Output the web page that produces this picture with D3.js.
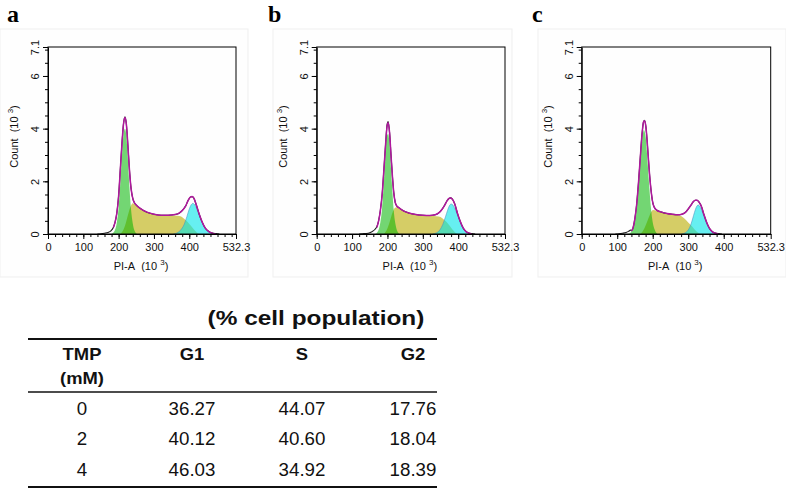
<!DOCTYPE html>
<html><head><meta charset="utf-8">
<script src="https://cdn.jsdelivr.net/npm/d3@7"></script>
<style>body{margin:0;background:#fff} svg{display:block}</style>
</head><body><svg id="chart" width="786" height="493"></svg>
<script>
// ---------- DATA ----------
const panelLabels = ["a", "b", "c"];
const xTicks = [0, 100, 200, 300, 400, 532.3];
const yTicks = [0, 2, 4, 6, 7.1];
const xMax = 532.3, yMax = 7.1;

// panel a (TMP 0 mM) : [PI-A (10^3), Count (10^3)]
const g1_a = [[180,0],[188,0.1],[195,0.45],[200,1.0],[205,2.0],[210,3.1],[214,3.8],[218,4.0],[222,3.7],[226,2.9],[230,1.9],[235,0.95],[240,0.4],[245,0.12],[252,0]];
const s_a  = [[205,0],[212,0.12],[220,0.4],[228,0.8],[235,1.08],[240,1.17],[248,1.1],[260,0.98],[280,0.82],[300,0.74],[320,0.70],[340,0.69],[360,0.70],[372,0.68],[382,0.62],[392,0.5],[400,0.38],[408,0.26],[415,0.14],[422,0.05],[428,0]];
const g2_a = [[355,0],[365,0.04],[375,0.14],[385,0.35],[393,0.65],[400,0.95],[405,1.1],[410,1.16],[415,1.12],[420,1.0],[428,0.72],[436,0.45],[445,0.22],[455,0.09],[465,0.03],[475,0]];
const fit_a = [[185,0.25],[190,0.45],[195,0.8],[200,1.45],[205,2.5],[210,3.55],[214,4.2],[218,4.42],[222,4.15],[226,3.4],[230,2.55],[235,1.75],[240,1.35],[245,1.18],[250,1.1],[260,0.98],[280,0.83],[300,0.75],[320,0.71],[340,0.71],[360,0.74],[370,0.78],[380,0.89],[390,1.07],[397,1.28],[403,1.4],[408,1.42],[413,1.36],[420,1.1],[428,0.76],[436,0.47],[445,0.23],[455,0.09],[465,0.03],[475,0]];
const data_a = [[140,0],[150,0.01],[160,0.03],[170,0.06],[178,0.12],[185,0.25],[190,0.45],[195,0.8],[200,1.45],[205,2.5],[210,3.55],[214,4.2],[218,4.45],[222,4.15],[226,3.4],[230,2.55],[235,1.75],[240,1.35],[245,1.18],[250,1.1],[260,0.98],[280,0.83],[300,0.75],[320,0.71],[340,0.71],[360,0.74],[370,0.78],[380,0.89],[390,1.07],[397,1.28],[403,1.4],[408,1.42],[413,1.36],[420,1.1],[428,0.76],[436,0.47],[445,0.23],[455,0.1],[465,0.04],[475,0.015],[485,0]];

// panel b (TMP 2 mM)
const g1_b = [[165,0],[172,0.08],[180,0.45],[185,1.0],[190,2.0],[195,3.1],[199,3.75],[202,3.8],[206,3.4],[210,2.5],[214,1.6],[218,0.85],[223,0.35],[228,0.1],[234,0]];
const s_b  = [[190,0],[198,0.15],[206,0.45],[214,0.8],[220,0.98],[226,1.02],[235,0.95],[250,0.85],[270,0.76],[290,0.71],[310,0.69],[330,0.68],[345,0.66],[355,0.6],[365,0.48],[373,0.36],[380,0.24],[387,0.12],[393,0.04],[398,0]];
const g2_b = [[328,0],[338,0.04],[348,0.15],[356,0.35],[364,0.65],[370,0.9],[375,1.07],[380,1.14],[385,1.1],[390,0.98],[398,0.72],[406,0.45],[414,0.22],[422,0.09],[430,0.03],[438,0]];
const fit_b = [[170,0.25],[175,0.5],[180,0.9],[185,1.5],[190,2.45],[195,3.45],[199,4.1],[202,4.22],[206,3.85],[210,3.0],[214,2.2],[218,1.55],[222,1.2],[226,1.07],[232,1.0],[245,0.88],[260,0.8],[280,0.74],[300,0.71],[320,0.70],[335,0.73],[345,0.8],[355,0.95],[362,1.1],[368,1.25],[374,1.35],[378,1.37],[383,1.33],[390,1.15],[398,0.78],[406,0.47],[414,0.23],[422,0.09],[430,0.03],[438,0]];
const data_b = [[120,0],[130,0.01],[140,0.02],[150,0.05],[158,0.1],[165,0.18],[170,0.28],[175,0.5],[180,0.9],[185,1.5],[190,2.45],[195,3.45],[199,4.15],[202,4.27],[206,3.85],[210,3.0],[214,2.2],[218,1.55],[222,1.2],[226,1.07],[232,1.0],[245,0.88],[260,0.8],[280,0.74],[300,0.71],[320,0.70],[335,0.73],[345,0.8],[355,0.95],[362,1.1],[368,1.25],[374,1.35],[378,1.37],[383,1.33],[390,1.15],[398,0.78],[406,0.47],[414,0.23],[422,0.1],[430,0.04],[438,0.015],[448,0]];

// panel c (TMP 4 mM)
const g1_c = [[130,0],[140,0.08],[148,0.35],[155,0.95],[160,1.7],[165,2.6],[170,3.5],[175,3.95],[180,3.7],[185,2.85],[190,1.85],[195,1.0],[200,0.45],[206,0.15],[213,0]];
const s_c  = [[165,0],[172,0.1],[180,0.32],[188,0.6],[195,0.82],[201,0.91],[210,0.88],[225,0.82],[240,0.78],[255,0.75],[270,0.72],[280,0.68],[290,0.58],[300,0.44],[310,0.3],[318,0.17],[326,0.07],[334,0]];
const g2_c = [[282,0],[292,0.05],[300,0.15],[308,0.38],[315,0.7],[320,0.92],[324,1.05],[328,1.1],[332,1.06],[337,0.93],[344,0.68],[352,0.4],[360,0.2],[368,0.08],[376,0.03],[385,0]];
const fit_c = [[140,0.12],[145,0.25],[150,0.6],[155,1.15],[160,1.95],[165,2.9],[170,3.8],[174,4.25],[177,4.3],[181,4.05],[185,3.4],[190,2.45],[195,1.7],[200,1.2],[205,1.0],[212,0.9],[225,0.83],[240,0.78],[255,0.75],[270,0.73],[282,0.75],[292,0.82],[300,0.95],[308,1.1],[314,1.22],[320,1.28],[325,1.28],[330,1.22],[337,1.05],[344,0.75],[352,0.44],[360,0.21],[368,0.08],[376,0.03],[385,0]];
const data_c = [[95,0],[105,0.01],[115,0.03],[125,0.06],[132,0.1],[138,0.15],[140,0.12],[145,0.25],[150,0.6],[155,1.15],[160,1.95],[165,2.9],[170,3.8],[174,4.25],[177,4.32],[181,4.05],[185,3.4],[190,2.45],[195,1.7],[200,1.2],[205,1.0],[212,0.9],[225,0.83],[240,0.78],[255,0.75],[270,0.73],[282,0.75],[292,0.82],[300,0.95],[308,1.1],[314,1.22],[320,1.28],[325,1.28],[330,1.22],[337,1.05],[344,0.75],[352,0.44],[360,0.21],[368,0.09],[376,0.04],[385,0.015],[395,0]];

// table
const tableTitle = "(% cell population)";
const headerTMP = ["TMP", "(mM)"];
const phaseHeaders = ["G1", "S", "G2"];
const tmpValues = ["0", "2", "4"];
const g1Pct = ["36.27", "40.12", "46.03"];
const sPct  = ["44.07", "40.60", "34.92"];
const g2Pct = ["17.76", "18.04", "18.39"];

// ---------- DRAW ----------
const svg = d3.select("#chart");
const sans = "'Liberation Sans', Arial, Helvetica, sans-serif";

const panels = [
  {label: panelLabels[0], g1: g1_a, s: s_a, g2: g2_a, fit: fit_a, data: data_a},
  {label: panelLabels[1], g1: g1_b, s: s_b, g2: g2_b, fit: fit_b, data: data_b},
  {label: panelLabels[2], g1: g1_c, s: s_c, g2: g2_c, fit: fit_c, data: data_c}
];
const layout = [
  {left: 48, right: 236, frameL: 0, frameR: 248, letterX: 7},
  {left: 316.7, right: 505, frameL: 273, frameR: 512, letterX: 268},
  {left: 581.7, right: 770.7, frameL: 538, frameR: 786, letterX: 532}
];
const plotTop = 47, plotBottom = 234;

const y = d3.scaleLinear().domain([0, yMax]).range([plotBottom, plotTop]);

panels.forEach((p, i) => {
  const L = layout[i];
  const x = d3.scaleLinear().domain([0, xMax]).range([L.left, L.right]);
  const g = svg.append("g");

  g.append("rect").attr("x", L.frameL).attr("y", 29).attr("width", L.frameR - L.frameL).attr("height", 248)
    .attr("fill", "#fefefe").attr("stroke", "#efefef");

  g.append("text").attr("x", L.letterX).attr("y", 21.5).text(p.label)
    .attr("font-family", "'Liberation Serif', 'Times New Roman', serif").attr("font-weight", "bold").attr("font-size", 24);

  const area = d3.area().x(d => x(d[0])).y0(y(0)).y1(d => y(d[1])).curve(d3.curveMonotoneX);
  const line = d3.line().x(d => x(d[0])).y(d => y(d[1])).curve(d3.curveMonotoneX);

  g.append("path").attr("d", area(p.s)).attr("fill", "rgb(185,172,0)").attr("fill-opacity", 0.6);
  g.append("path").attr("d", area(p.g1)).attr("fill", "rgb(0,180,0)").attr("fill-opacity", 0.55);
  g.append("path").attr("d", area(p.g2)).attr("fill", "rgb(0,228,232)").attr("fill-opacity", 0.6);
  g.append("path").attr("d", line(p.g2)).attr("fill", "none").attr("stroke", "#4a8fc0").attr("stroke-width", 0.8).attr("opacity", 0.7);

  g.append("path").attr("d", line(p.data)).attr("fill", "none").attr("stroke", "#1c1c1c").attr("stroke-width", 1.1);
  g.append("path").attr("d", line(p.fit)).attr("fill", "none").attr("stroke", "#b0189e").attr("stroke-width", 1.5);

  // box
  g.append("rect").attr("x", L.left).attr("y", plotTop).attr("width", L.right - L.left).attr("height", plotBottom - plotTop)
    .attr("fill", "none").attr("stroke", "#000").attr("stroke-width", 1);

  // x axis
  const xMinor = d3.range(0, 521, 20);
  g.append("g").attr("transform", `translate(0,${plotBottom})`)
    .call(d3.axisBottom(x).tickValues(xMinor).tickSize(3).tickFormat(""))
    .call(a => a.select(".domain").remove());
  const xa = g.append("g").attr("transform", `translate(0,${plotBottom})`)
    .call(d3.axisBottom(x).tickValues(xTicks).tickSize(5).tickSizeOuter(0).tickFormat(d => d));
  xa.selectAll("text").attr("font-family", sans).attr("font-size", 11).attr("fill", "#111").attr("y", 9);

  // y axis
  const yMinor = d3.range(0, 7.01, 0.5);
  g.append("g").attr("transform", `translate(${L.left},0)`)
    .call(d3.axisLeft(y).tickValues(yMinor).tickSize(3).tickFormat(""))
    .call(a => a.select(".domain").remove());
  const ya = g.append("g").attr("transform", `translate(${L.left},0)`)
    .call(d3.axisLeft(y).tickValues(yTicks).tickSize(5).tickSizeOuter(0).tickFormat(d => d));
  ya.selectAll("text").attr("font-family", sans).attr("font-size", 11).attr("fill", "#111")
    .attr("transform", "rotate(-90)").attr("x", 0).attr("y", -9).attr("dy", 0).attr("text-anchor", "middle");
  svg.selectAll(".tick line").attr("stroke", "#000");

  // axis titles
  const xt = g.append("text").attr("x", (L.left + L.right) / 2 - 1).attr("y", 270)
    .attr("text-anchor", "middle").attr("font-family", sans).attr("font-size", 11).attr("fill", "#111");
  xt.append("tspan").text("PI-A\u00a0\u00a0(10\u00a0");
  xt.append("tspan").text("3").attr("font-size", 8).attr("dy", -5);
  xt.append("tspan").text(")").attr("dy", 5);

  const yt = g.append("text").attr("transform", `translate(${L.left - 30},${(plotTop + plotBottom) / 2 - 4}) rotate(-90)`)
    .attr("text-anchor", "middle").attr("font-family", sans).attr("font-size", 11).attr("fill", "#111");
  yt.append("tspan").text("Count\u00a0\u00a0(10\u00a0");
  yt.append("tspan").text("3").attr("font-size", 8).attr("dy", -5);
  yt.append("tspan").text(")").attr("dy", 5);
});

// ---------- TABLE ----------
const t = svg.append("g");
const colX = [82, 192, 302, 413];
function txt(xp, yp, s, size, weight, sx) {
  t.append("text").attr("transform", `translate(${xp},${yp}) scale(${sx},1)`)
    .attr("text-anchor", "middle").attr("font-family", sans).attr("font-size", size)
    .attr("font-weight", weight).attr("fill", "#111").text(s);
}
txt(316, 325, tableTitle, 20, "bold", 1.22);
t.append("line").attr("x1", 28).attr("x2", 437).attr("y1", 339).attr("y2", 339).attr("stroke", "#111").attr("stroke-width", 2);
t.append("line").attr("x1", 28).attr("x2", 437).attr("y1", 392).attr("y2", 392).attr("stroke", "#111").attr("stroke-width", 1.6);
t.append("line").attr("x1", 28).attr("x2", 437).attr("y1", 487).attr("y2", 487).attr("stroke", "#111").attr("stroke-width", 2);
txt(colX[0], 360, headerTMP[0], 16, "bold", 1.15);
txt(colX[0], 384, headerTMP[1], 16, "bold", 1.15);
phaseHeaders.forEach((h, j) => txt(colX[j + 1], 360, h, 16, "bold", 1.15));
const rowsY = [415, 445, 476];
tmpValues.forEach((v, r) => {
  txt(colX[0], rowsY[r], v, 18, "normal", 1.04);
  txt(colX[1], rowsY[r], g1Pct[r], 18, "normal", 1.04);
  txt(colX[2], rowsY[r], sPct[r], 18, "normal", 1.04);
  txt(colX[3], rowsY[r], g2Pct[r], 18, "normal", 1.04);
});
</script>
</body></html>
